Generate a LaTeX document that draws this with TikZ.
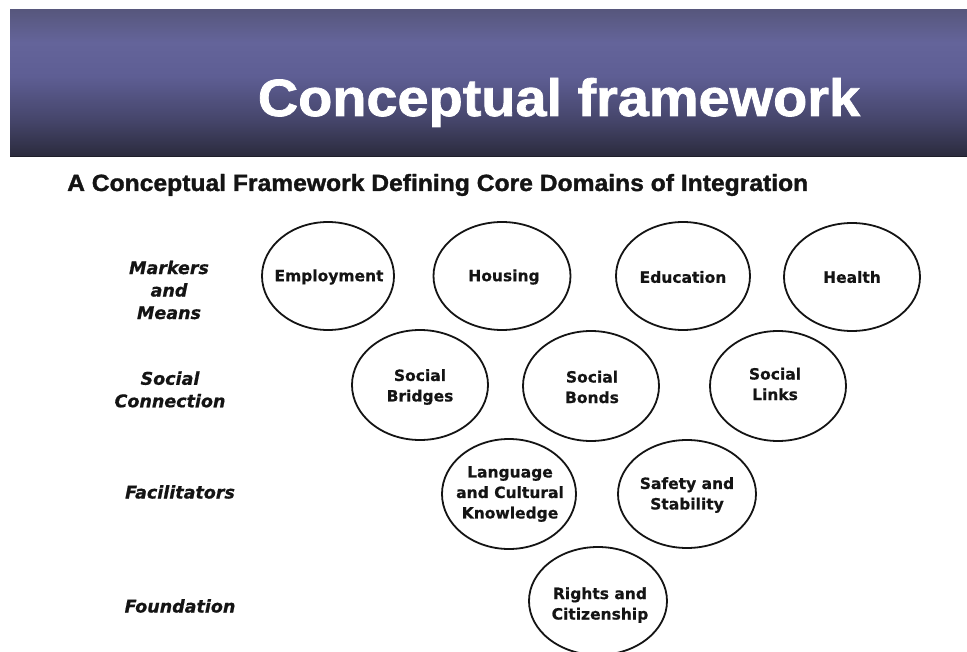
\documentclass[tikz,border=0pt]{standalone}
\usepackage{graphicx}
\usepackage{fontspec}
\setmainfont{DejaVu Sans}[
  BoldFont={DejaVu Sans Bold},
  ItalicFont={DejaVu Sans Oblique},
  BoldItalicFont={DejaVu Sans Bold Oblique},
  BoldFeatures={FakeBold=0.6},
  BoldItalicFeatures={FakeBold=0.6}]
\newfontfamily\headfont{Liberation Sans Bold}[FakeBold=1.4]
\usetikzlibrary{shapes.geometric}

\definecolor{ink}{HTML}{141414}
\definecolor{bandA}{HTML}{2A2A3C}
\definecolor{bandB}{HTML}{33334B}
\definecolor{bandC}{HTML}{45456A}
\definecolor{bandD}{HTML}{5E5E94}
\definecolor{bandE}{HTML}{64649A}
\definecolor{bandF}{HTML}{57577D}
\definecolor{bandEdge}{HTML}{1E1E2A}

% vertical gradient of the title band; the filled box spans 25bp..75bp
\pgfdeclareverticalshading{bandshade}{100bp}{%
  color(0bp)=(bandA); color(25bp)=(bandA); color(29bp)=(bandB);
  color(37.5bp)=(bandC); color(52.5bp)=(bandD); color(64bp)=(bandE);
  color(75bp)=(bandF); color(100bp)=(bandF)}

\begin{document}
\begin{tikzpicture}[x=1pt,y=-1pt,
  domoval/.style={ellipse, draw=ink, line width=1.8pt, inner sep=0pt},
  domtext/.style={align=center, text=ink, inner sep=0pt,
    font=\bfseries\fontsize{15.5}{20.5}\selectfont},
  tier/.style={align=center, text=ink, inner sep=0pt,
    font=\bfseries\itshape\fontsize{17.5}{22.5}\selectfont}]

\useasboundingbox (0,0) rectangle (967,652);
\clip (0,0) rectangle (967,652);
\fill[white] (0,0) rectangle (967,652);

% title band
\shade[shading=bandshade] (10,10) rectangle (967,157);
\draw[bandEdge, line width=1.5pt] (10,156.3) -- (967,156.3);
\node[anchor=base, inner sep=0pt, text=white] (title) at (559,116)
  {\resizebox{602pt}{38pt}{\headfont Conceptual framework}};

% heading of the framework
\node[anchor=base west, inner sep=0pt, text=ink] (heading) at (67,191)
  {\resizebox{741pt}{17pt}{\headfont A Conceptual Framework Defining Core Domains of Integration}};

% tier names
\node[tier] (markers) at (169,290) {Markers\\and\\Means};
\node[tier] (social) at (170,389.5) {Social\\Connection};
\node[tier] (facil) at (180,492) {Facilitators};
\node[tier] (found) at (180,606) {Foundation};

% markers and means
\node[domoval, minimum width=132pt, minimum height=108pt] (emp) at (328,276) {};
\node[domtext] (empT) at (329,277) {Employment};
\node[domoval, minimum width=137pt, minimum height=108pt] (hou) at (502,276) {};
\node[domtext] (houT) at (504,277) {Housing};
\node[domoval, minimum width=134pt, minimum height=108pt] (edu) at (683,276) {};
\node[domtext] (eduT) at (683,277) {Education};
\node[domoval, minimum width=136pt, minimum height=108pt] (hea) at (852,277) {};
\node[domtext] (heaT) at (852,277) {Health};

% social connection
\node[domoval, minimum width=136pt, minimum height=110pt] (bri) at (420,385) {};
\node[domtext] (briT) at (420,387) {Social\\Bridges};
\node[domoval, minimum width=136pt, minimum height=110pt] (bon) at (591,386) {};
\node[domtext] (bonT) at (592,387) {Social\\Bonds};
\node[domoval, minimum width=136pt, minimum height=110pt] (lin) at (778,386) {};
\node[domtext] (linT) at (775,384) {Social\\Links};

% facilitators
\node[domoval, minimum width=134pt, minimum height=110pt] (lan) at (509,494) {};
\node[domtext] (lanT) at (510,494) {Language\\and Cultural\\Knowledge};
\node[domoval, minimum width=138pt, minimum height=108pt] (saf) at (687,494) {};
\node[domtext] (safT) at (687,495) {Safety and\\Stability};

% foundation
\node[domoval, minimum width=138pt, minimum height=108pt] (rig) at (598,601) {};
\node[domtext] (rigT) at (600,605) {Rights and\\Citizenship};

\end{tikzpicture}
\end{document}
